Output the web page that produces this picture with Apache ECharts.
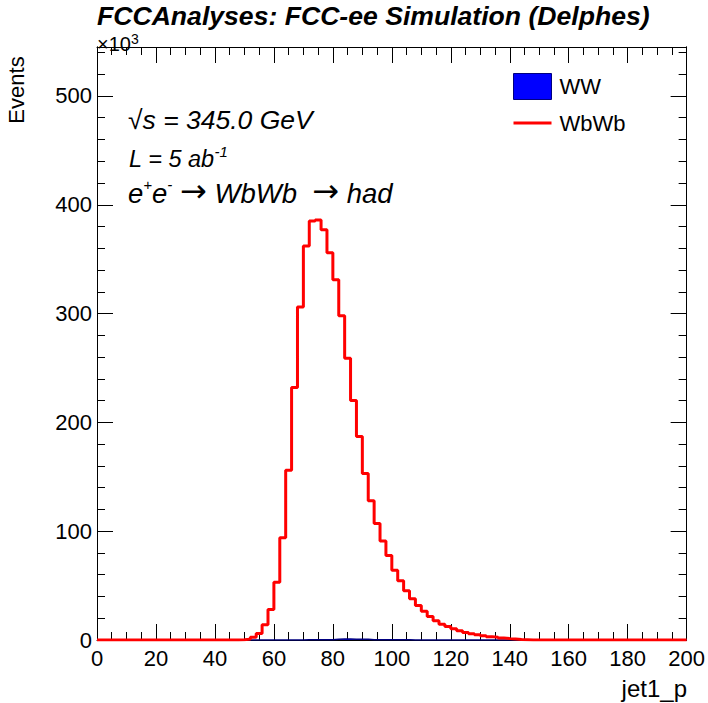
<!DOCTYPE html>
<html>
<head>
<meta charset="utf-8">
<script src="https://cdn.jsdelivr.net/npm/echarts@6/dist/echarts.min.js"></script>
<style>
html,body{margin:0;padding:0;background:#fff;}
#chart{width:708px;height:703px;}
</style>
</head>
<body>
<div id="chart"></div>
<script>
// ---- data (values in thousands of events, 2-unit bins from 0 to 200) ----
const binWidth = 2;
const xMin = 0, xMax = 200;
const yMax = 545;
const xTicks = [0, 20, 40, 60, 80, 100, 120, 140, 160, 180, 200];
const yTicks = [0, 100, 200, 300, 400, 500];
const seriesNames = ['WW', 'WbWb'];

const wbwbValues = [
  0, 0, 0, 0, 0, 0, 0, 0, 0, 0,
  0, 0, 0, 0, 0, 0, 0, 0, 0, 0,
  0, 0, 0, 0, 0.2, 0.8, 2.5, 6, 14, 28,
  53, 94, 156, 232, 306, 362, 385, 386, 377, 356,
  331, 298, 259, 220, 187, 153, 128, 107, 91, 77.6,
  64, 54.5, 45.3, 37.8, 31.6, 26.5, 21.5, 17.6, 14.5, 12.4,
  10.4, 8.6, 7, 5.8, 4.8, 3.9, 3.1, 2.5, 1.8, 1.3,
  0.9, 0.5, 0.3, 0.1, 0, 0, 0, 0, 0, 0,
  0, 0, 0, 0, 0, 0, 0, 0, 0, 0,
  0, 0, 0, 0, 0, 0, 0, 0, 0, 0
];

const wwValues = [
  0, 0, 0, 0, 0, 0, 0, 0, 0, 0,
  0, 0, 0, 0, 0, 0, 0, 0, 0, 0,
  0, 0, 0, 0, 0, 0, 0, 0, 0, 0,
  0, 0, 0, 0, 0, 0.2, 0.2, 0.3, 0.3, 0.3,
  0.8, 0.9, 0.9, 0.8, 0.8, 0.7, 0.3, 0.3, 0.2, 0.2,
  0.2, 0.2, 0.2, 0.1, 0.1, 0.1, 0.1, 0, 0, 0,
  0, 0, 0, 0, 0, 0, 0, 0, 0, 0,
  0, 0, 0, 0, 0, 0, 0, 0, 0, 0,
  0, 0, 0, 0, 0, 0, 0, 0, 0, 0,
  0, 0, 0, 0, 0, 0, 0, 0, 0, 0
];

function toSteps(values) {
  const pts = values.map((v, i) => [xMin + i * binWidth, v]);
  pts.push([xMin + values.length * binWidth, values[values.length - 1]]);
  return pts;
}

const FONT = '"Liberation Sans", Arial, Helvetica, sans-serif';
const chart = echarts.init(document.getElementById('chart'), null, {renderer: 'svg'});

function xAx(pos, labels) {
  return {
    type: 'value', min: xMin, max: xMax, interval: 20, position: pos,
    axisLine: {show: true, onZero: false, lineStyle: {color: '#000', width: 1}},
    axisTick: {show: true, inside: true, length: 16, lineStyle: {color: '#000', width: 1}},
    minorTick: {show: true, splitNumber: 4, length: 8, lineStyle: {color: '#000', width: 1}},
    axisLabel: {show: labels, fontSize: 22, color: '#000', fontFamily: FONT, margin: 7,
      formatter: v => xTicks.includes(v) ? String(v) : ''},
    splitLine: {show: false}
  };
}
function yAx(pos, interval, len, labels) {
  return {
    type: 'value', min: 0, max: yMax, interval: interval, position: pos,
    axisLine: {show: true, onZero: false, lineStyle: {color: '#000', width: 1}},
    axisTick: {show: true, inside: true, length: len, lineStyle: {color: '#000', width: 1}},
    axisLabel: {show: labels, fontSize: 22, color: '#000', fontFamily: FONT, margin: 5,
      showMaxLabel: false,
      formatter: v => yTicks.includes(v) ? String(v) : ''},
    splitLine: {show: false}
  };
}

const lineIcon = 'path://M0,0L0.01,0L0.01,0.01Z M0,11.5L38,11.5L38,14.5L0,14.5Z M0,26L0.01,26L0.01,25.99Z';

const option = {
  backgroundColor: '#fff',
  animation: false,
  grid: {left: 97, right: 21, top: 47, bottom: 63, containLabel: false},
  xAxis: [xAx('bottom', true), xAx('top', false)],
  yAxis: [yAx('left', 100, 16, true), yAx('left', 20, 8, false),
          yAx('right', 100, 16, false), yAx('right', 20, 8, false)],
  legend: {
    orient: 'vertical', left: 513, top: 73, padding: 0,
    itemWidth: 38, itemHeight: 26, itemGap: 10,
    textStyle: {fontSize: 22, color: '#000', fontFamily: FONT, padding: [0, 0, 0, 3]},
    data: [
      {name: seriesNames[0], icon: 'rect', itemStyle: {color: '#0000ff', borderColor: '#000080', borderWidth: 1}},
      {name: seriesNames[1], icon: lineIcon, itemStyle: {color: '#ff0000', borderWidth: 0}}
    ]
  },
  series: [
    {
      name: seriesNames[0], type: 'line', step: 'end', xAxisIndex: 0, yAxisIndex: 0,
      data: toSteps(wwValues), symbol: 'none', z: 2,
      lineStyle: {color: '#000080', width: 1.5},
      itemStyle: {color: '#0000ff'},
      areaStyle: {color: '#0000ff', opacity: 1}
    },
    {
      name: seriesNames[1], type: 'line', step: 'end', xAxisIndex: 0, yAxisIndex: 0,
      data: toSteps(wbwbValues), symbol: 'none', z: 3,
      lineStyle: {color: '#ff0000', width: 3},
      itemStyle: {color: '#ff0000'}
    }
  ],
  graphic: [
    {type: 'text', left: 97, top: 2, style: {
      text: 'FCCAnalyses: FCC-ee Simulation (Delphes)', fontSize: 26.6, fontWeight: 'bold',
      fontStyle: 'italic', fontFamily: FONT, fill: '#000'}},
    {type: 'text', x: 97, y: 43, style: {
      text: '{n|×10}{s|3}', fontFamily: FONT, fill: '#000', align: 'left', verticalAlign: 'middle',
      rich: {n: {fontSize: 20, fontFamily: FONT, verticalAlign: 'bottom', lineHeight: 22},
             s: {fontSize: 14, fontFamily: FONT, verticalAlign: 'top', lineHeight: 22}}}},
    {type: 'text', x: 16, y: 90, rotation: Math.PI / 2, style: {
      text: 'Events', fontSize: 22, fontFamily: FONT, fill: '#000',
      align: 'center', verticalAlign: 'middle'}},
    {type: 'text', x: 687, y: 688, style: {
      text: 'jet1_p', fontSize: 24, fontFamily: FONT, fill: '#000',
      align: 'right', verticalAlign: 'middle'}},
    {type: 'text', x: 128, y: 120, style: {
      text: '√s = 345.0 GeV', fontSize: 26.5, fontStyle: 'italic', fontFamily: FONT, fill: '#000',
      align: 'left', verticalAlign: 'middle'}},
    {type: 'text', x: 129, y: 157, style: {
      text: '{n|L = 5 ab}{s|-1}', fontFamily: FONT, fill: '#000',
      align: 'left', verticalAlign: 'middle',
      rich: {n: {fontSize: 23.5, fontStyle: 'italic', fontFamily: FONT, verticalAlign: 'bottom', lineHeight: 26},
             s: {fontSize: 15, fontStyle: 'italic', fontFamily: FONT, verticalAlign: 'top', lineHeight: 26}}}},
    {type: 'text', x: 128, y: 192, style: {
      text: '{n|e}{s|+}{n|e}{s|-}{n| }{a|→}{n| WbWb  }{a|→}{n| had}', fontFamily: FONT, fill: '#000',
      align: 'left', verticalAlign: 'middle',
      rich: {n: {fontSize: 27.5, fontStyle: 'italic', fontFamily: FONT, verticalAlign: 'bottom', lineHeight: 30},
             a: {fontSize: 32, fontFamily: '"DejaVu Sans", sans-serif', verticalAlign: 'bottom', lineHeight: 30},
             s: {fontSize: 15, fontStyle: 'italic', fontFamily: FONT, verticalAlign: 'top', lineHeight: 30}}}}
  ]
};
chart.setOption(option);
</script>
</body>
</html>
